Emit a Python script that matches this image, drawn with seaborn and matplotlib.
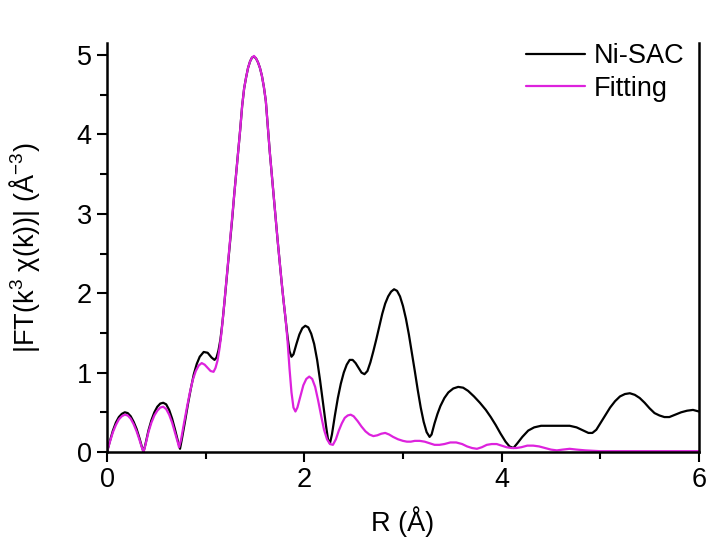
import numpy as np
import pandas as pd
import matplotlib
matplotlib.use("Agg")
import matplotlib.pyplot as plt
from matplotlib.ticker import MultipleLocator
import seaborn as sns

# Ni-SAC measured |FT(k^3 chi(k))|
r_sac = [0.00, 0.03, 0.06, 0.09, 0.12, 0.15, 0.18, 0.21, 0.24, 0.27, 0.30, 0.33, 0.35, 0.37,
         0.39, 0.42, 0.45, 0.48, 0.51, 0.54, 0.57, 0.60, 0.63, 0.66, 0.69, 0.72, 0.74, 0.76,
         0.79, 0.82, 0.85, 0.88, 0.91, 0.94, 0.98, 1.02, 1.06, 1.09, 1.11, 1.13, 1.15, 1.17,
         1.19, 1.21, 1.23, 1.25, 1.27, 1.29, 1.31, 1.33, 1.35, 1.37, 1.39, 1.41, 1.43, 1.45,
         1.47, 1.49, 1.51, 1.53, 1.55, 1.57, 1.59, 1.61, 1.63, 1.65, 1.67, 1.69, 1.71, 1.73,
         1.75, 1.77, 1.79, 1.81, 1.83, 1.85, 1.87, 1.89, 1.92, 1.95, 1.98, 2.01, 2.04, 2.07,
         2.10, 2.13, 2.16, 2.19, 2.22, 2.24, 2.26, 2.28, 2.31, 2.34, 2.37, 2.40, 2.43, 2.46,
         2.49, 2.52, 2.55, 2.58, 2.61, 2.64, 2.67, 2.70, 2.73, 2.76, 2.79, 2.82, 2.85, 2.88,
         2.91, 2.94, 2.97, 3.00, 3.03, 3.06, 3.09, 3.12, 3.15, 3.18, 3.21, 3.24, 3.27, 3.29,
         3.32, 3.35, 3.38, 3.42, 3.46, 3.51, 3.56, 3.61, 3.66, 3.72, 3.78, 3.84, 3.89, 3.94,
         3.99, 4.04, 4.08, 4.12, 4.16, 4.21, 4.27, 4.33, 4.40, 4.50, 4.60, 4.69, 4.76, 4.83,
         4.88, 4.92, 4.96, 5.00, 5.05, 5.10, 5.15, 5.20, 5.25, 5.30, 5.35, 5.40, 5.45, 5.50,
         5.55, 5.60, 5.65, 5.70, 5.76, 5.82, 5.88, 5.94, 6.00]
ft_sac = [0.00, 0.14, 0.27, 0.37, 0.44, 0.48, 0.50, 0.49, 0.45, 0.38, 0.29, 0.17, 0.08, 0.00,
          0.10, 0.27, 0.40, 0.50, 0.57, 0.61, 0.62, 0.60, 0.53, 0.42, 0.28, 0.13, 0.04, 0.17,
          0.38, 0.60, 0.80, 0.98, 1.11, 1.20, 1.26, 1.25, 1.19, 1.16, 1.19, 1.28, 1.42, 1.63,
          1.88, 2.15, 2.42, 2.68, 2.95, 3.25, 3.52, 3.79, 4.06, 4.36, 4.58, 4.72, 4.84, 4.92,
          4.97, 4.98, 4.96, 4.91, 4.84, 4.74, 4.60, 4.42, 4.10, 3.78, 3.50, 3.21, 2.93, 2.66,
          2.40, 2.14, 1.90, 1.68, 1.45, 1.27, 1.20, 1.23, 1.36, 1.48, 1.56, 1.59, 1.57, 1.49,
          1.36, 1.16, 0.90, 0.61, 0.33, 0.16, 0.11, 0.22, 0.46, 0.68, 0.86, 1.00, 1.10, 1.16,
          1.16, 1.12, 1.06, 1.00, 0.98, 1.02, 1.13, 1.27, 1.42, 1.58, 1.74, 1.87, 1.96, 2.02,
          2.05, 2.03, 1.96, 1.84, 1.68, 1.48, 1.25, 1.02, 0.78, 0.56, 0.38, 0.25, 0.19, 0.22,
          0.36, 0.48, 0.58, 0.68, 0.75, 0.80, 0.82, 0.81, 0.77, 0.70, 0.62, 0.53, 0.44, 0.34,
          0.23, 0.13, 0.07, 0.05, 0.11, 0.19, 0.27, 0.31, 0.33, 0.33, 0.33, 0.33, 0.31, 0.27,
          0.24, 0.24, 0.28, 0.36, 0.46, 0.56, 0.64, 0.70, 0.73, 0.74, 0.72, 0.68, 0.62, 0.55,
          0.49, 0.46, 0.44, 0.44, 0.47, 0.50, 0.52, 0.53, 0.51]

# First-shell fitting curve
r_fit = [0.00, 0.03, 0.06, 0.09, 0.12, 0.15, 0.18, 0.21, 0.24, 0.27, 0.30, 0.33, 0.35, 0.37,
         0.39, 0.42, 0.45, 0.48, 0.51, 0.54, 0.57, 0.60, 0.63, 0.66, 0.69, 0.72, 0.73, 0.75,
         0.78, 0.81, 0.84, 0.87, 0.90, 0.93, 0.96, 0.99, 1.02, 1.05, 1.08, 1.10, 1.12, 1.14,
         1.16, 1.18, 1.20, 1.23, 1.25, 1.27, 1.29, 1.31, 1.33, 1.35, 1.37, 1.39, 1.41, 1.43,
         1.45, 1.47, 1.49, 1.51, 1.53, 1.55, 1.57, 1.59, 1.61, 1.63, 1.65, 1.67, 1.69, 1.71,
         1.73, 1.75, 1.77, 1.79, 1.81, 1.83, 1.85, 1.87, 1.89, 1.91, 1.93, 1.96, 1.99, 2.02,
         2.05, 2.08, 2.11, 2.14, 2.17, 2.20, 2.23, 2.26, 2.29, 2.32, 2.35, 2.38, 2.41, 2.44,
         2.47, 2.50, 2.54, 2.58, 2.62, 2.66, 2.70, 2.74, 2.78, 2.82, 2.86, 2.90, 2.95, 3.00,
         3.04, 3.08, 3.12, 3.17, 3.22, 3.27, 3.32, 3.37, 3.42, 3.48, 3.54, 3.60, 3.65, 3.70,
         3.75, 3.80, 3.85, 3.90, 3.95, 4.00, 4.05, 4.10, 4.15, 4.20, 4.26, 4.32, 4.38, 4.44,
         4.50, 4.56, 4.62, 4.69, 4.76, 4.85, 5.00, 5.50, 6.00]
ft_fit = [0.00, 0.13, 0.25, 0.34, 0.41, 0.45, 0.47, 0.46, 0.42, 0.35, 0.26, 0.15, 0.07, 0.00,
          0.09, 0.25, 0.37, 0.46, 0.52, 0.56, 0.57, 0.54, 0.47, 0.37, 0.24, 0.11, 0.06, 0.15,
          0.36, 0.56, 0.75, 0.91, 1.02, 1.09, 1.12, 1.10, 1.06, 1.02, 1.01, 1.06, 1.15, 1.30,
          1.50, 1.75, 2.02, 2.42, 2.68, 2.95, 3.25, 3.52, 3.79, 4.06, 4.36, 4.58, 4.72, 4.84,
          4.92, 4.97, 4.99, 4.96, 4.91, 4.84, 4.74, 4.60, 4.42, 4.10, 3.78, 3.50, 3.21, 2.93,
          2.66, 2.40, 2.14, 1.90, 1.68, 1.40, 1.05, 0.75, 0.56, 0.51, 0.56, 0.70, 0.84, 0.92,
          0.95, 0.92, 0.82, 0.65, 0.46, 0.28, 0.16, 0.10, 0.09, 0.16, 0.27, 0.36, 0.43, 0.46,
          0.47, 0.45, 0.39, 0.32, 0.26, 0.22, 0.20, 0.21, 0.23, 0.24, 0.22, 0.19, 0.16, 0.14,
          0.13, 0.13, 0.14, 0.14, 0.13, 0.11, 0.09, 0.09, 0.10, 0.12, 0.12, 0.10, 0.07, 0.05,
          0.04, 0.06, 0.09, 0.10, 0.10, 0.08, 0.06, 0.05, 0.05, 0.06, 0.08, 0.08, 0.07, 0.05,
          0.03, 0.02, 0.03, 0.04, 0.03, 0.02, 0.01, 0.01, 0.01]

sns.set_theme(style="ticks")
plt.rcParams["font.family"] = ["Liberation Sans", "DejaVu Sans"]
plt.rcParams["mathtext.fontset"] = "custom"
plt.rcParams["mathtext.rm"] = "Liberation Sans"
plt.rcParams["mathtext.it"] = "Liberation Sans:italic"
plt.rcParams["text.color"] = "black"
plt.rcParams["axes.labelcolor"] = "black"

fig = plt.figure(figsize=(7.11, 5.40), dpi=100)
ax = fig.add_axes([0.1505, 0.163, 0.8325, 0.757])

sns.lineplot(x=r_sac, y=ft_sac, ax=ax, color="black", linewidth=1.6, label="Ni-SAC", sort=False)
sns.lineplot(x=r_fit, y=ft_fit, ax=ax, color="#dd22dd", linewidth=1.6, label="Fitting", sort=False)

ax.set_xlim(0, 6)
ax.set_ylim(0, 5.15)
ax.xaxis.set_major_locator(MultipleLocator(2))
ax.xaxis.set_minor_locator(MultipleLocator(1))
ax.yaxis.set_major_locator(MultipleLocator(1))
ax.yaxis.set_minor_locator(MultipleLocator(0.5))
ax.tick_params(which="major", direction="out", length=7, width=1.5, labelsize=19.5,
               colors="black", pad=4)
ax.tick_params(which="minor", direction="out", length=5, width=1.5, colors="black")

for side in ["left", "right", "bottom"]:
    ax.spines[side].set_linewidth(1.8)
    ax.spines[side].set_color("black")
ax.spines["top"].set_visible(False)

ax.set_xlabel("R (Å)", fontsize=19.5, labelpad=9)
ax.set_ylabel(r"|FT(k$^3$ χ(k))| (Å$^{-3}$)", fontsize=19.5, labelpad=25)

leg = ax.legend(loc="upper right", frameon=False, fontsize=19.5, handlelength=2.2,
                handletextpad=0.3, labelspacing=0.25, borderaxespad=0.0,
                bbox_to_anchor=(0.993, 1.027))

fig.savefig("out.png", dpi=100)
